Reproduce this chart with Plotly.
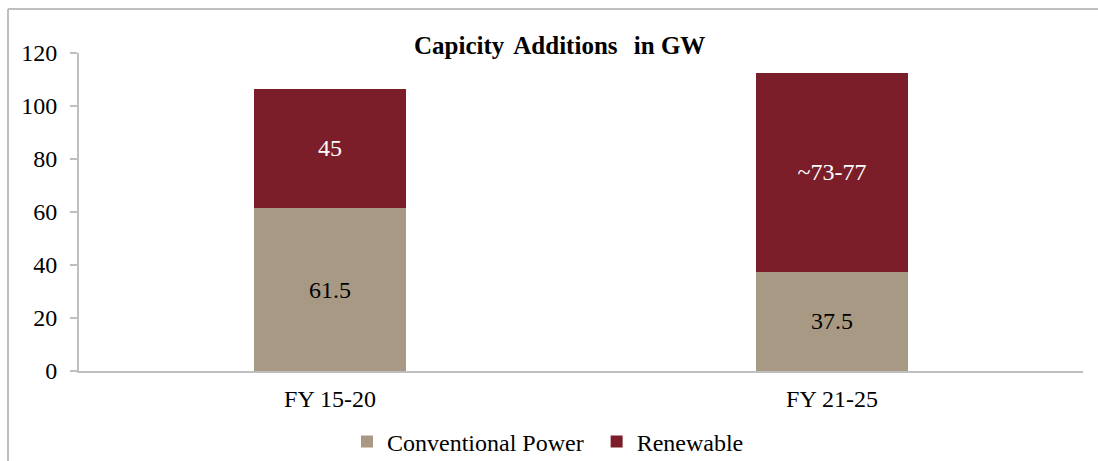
import plotly.graph_objects as go

categories = ["FY 15-20", "FY 21-25"]
conventional = [61.5, 37.5]
renewable = [45, 75]
conventional_labels = ["61.5", "37.5"]
renewable_labels = ["45", "~73-77"]
y_ticks = [0, 20, 40, 60, 80, 100, 120]

W, H = 1098, 461
L, R, T, B = 79, 15, 53, 90
pw = W - L - R
ph = H - T - B

def px_x(p):
    return (p - L) / pw

def px_y(p):
    return 1 - (p - T) / ph

FONT = "Liberation Serif, Times New Roman, serif"
C_CONV = "#A89984"
C_REN = "#7B1E2A"
GRID = "#BFBFBF"
FS = 24

fig = go.Figure()
fig.add_trace(go.Bar(
    x=categories, y=conventional, name="Conventional Power\u2006\u2006",
    marker=dict(color=C_CONV, line=dict(width=0)),
    text=conventional_labels, textposition="inside", insidetextanchor="middle",
    textangle=0, constraintext="none",
    textfont=dict(family=FONT, size=FS, color="#000000"),
    width=0.303, hoverinfo="skip",
))
fig.add_trace(go.Bar(
    x=categories, y=renewable, name="Renewable",
    marker=dict(color=C_REN, line=dict(width=0)),
    text=renewable_labels, textposition="inside", insidetextanchor="middle",
    textangle=0, constraintext="none",
    textfont=dict(family=FONT, size=FS, color="#FFFFFF"),
    width=0.303, hoverinfo="skip",
))

fig.update_layout(
    barmode="stack",
    width=W, height=H,
    margin=dict(l=L, r=R, t=T, b=B, autoexpand=False),
    paper_bgcolor="white", plot_bgcolor="white",
    font=dict(family=FONT, size=FS, color="#000000"),
    showlegend=True,
    uniformtext=dict(mode=False),
    legend=dict(
        orientation="h", x=px_x(347), xanchor="left",
        y=px_y(442), yanchor="middle",
        font=dict(family=FONT, size=FS, color="#000000"),
        itemwidth=30, traceorder="normal",
        bgcolor="rgba(0,0,0,0)",
    ),
    xaxis=dict(
        showline=True, linecolor=GRID, linewidth=2,
        ticks="", showgrid=False, zeroline=False,
        tickfont=dict(family=FONT, size=FS),
        ticklabelstandoff=5,
    ),
    yaxis=dict(
        range=[0, 120], tickvals=y_ticks,
        showline=True, linecolor=GRID, linewidth=2,
        ticks="outside", ticklen=7, tickcolor=GRID, tickwidth=1.5,
        showgrid=False, zeroline=False,
        tickfont=dict(family=FONT, size=FS),
        ticklabelstandoff=8,
    ),
    annotations=[dict(
        text="<b>Capicity\u2006 Additions\u2009\u2009 in GW</b>",
        x=px_x(559), y=px_y(45), xref="paper", yref="paper",
        xanchor="center", yanchor="middle", showarrow=False,
        font=dict(family=FONT, size=25, color="#000000"),
    )],
    shapes=[
        dict(type="line", xref="paper", yref="paper",
             x0=px_x(8), x1=px_x(8), y0=px_y(9), y1=px_y(470),
             line=dict(color=GRID, width=2)),
        dict(type="line", xref="paper", yref="paper",
             x0=px_x(8), x1=px_x(1110), y0=px_y(9), y1=px_y(9),
             line=dict(color=GRID, width=2)),
    ],
)

fig.write_html(
    "out.html",
    config={"displayModeBar": False, "staticPlot": True},
    post_script="document.body.style.margin='0px';document.body.style.overflow='hidden';",
)
